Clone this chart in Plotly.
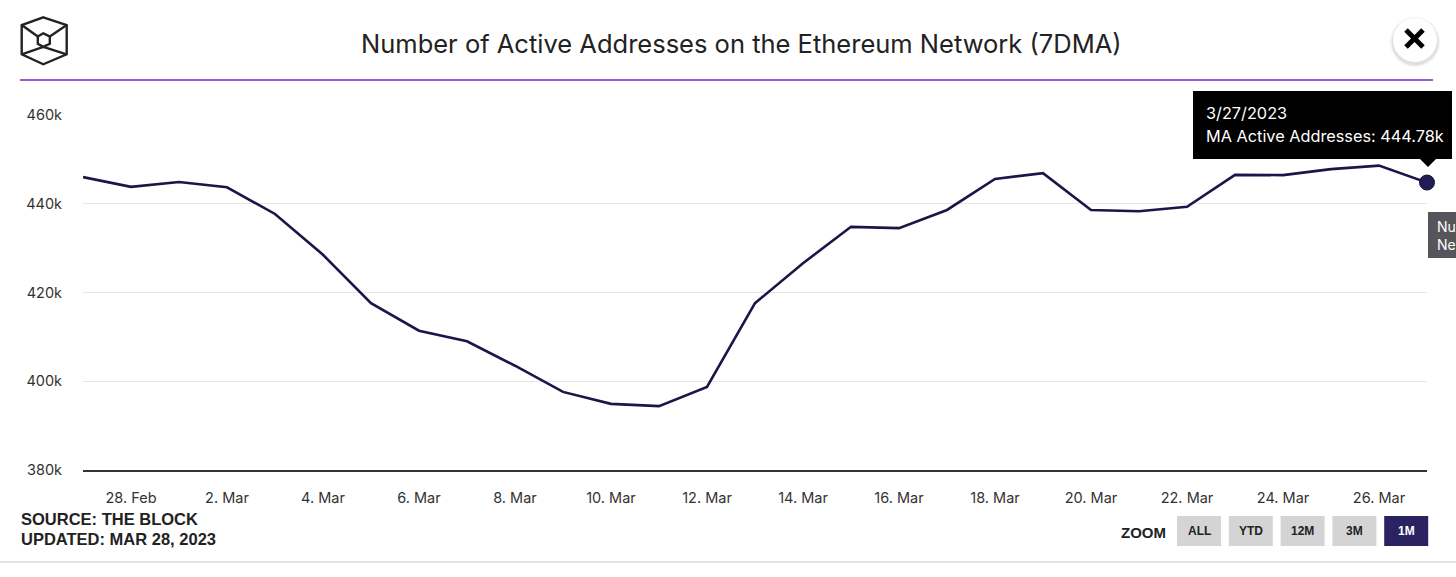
import plotly.graph_objects as go

# ---------------- data ----------------
dates = ["2023-02-27", "2023-02-28", "2023-03-01", "2023-03-02", "2023-03-03",
         "2023-03-04", "2023-03-05", "2023-03-06", "2023-03-07", "2023-03-08",
         "2023-03-09", "2023-03-10", "2023-03-11", "2023-03-12", "2023-03-13",
         "2023-03-14", "2023-03-15", "2023-03-16", "2023-03-17", "2023-03-18",
         "2023-03-19", "2023-03-20", "2023-03-21", "2023-03-22", "2023-03-23",
         "2023-03-24", "2023-03-25", "2023-03-26", "2023-03-27"]
active_addresses = [446000, 443800, 444900, 443700, 437700,
                    428500, 417600, 411400, 409000, 403500,
                    397600, 394900, 394400, 398700, 417600,
                    426600, 434800, 434500, 438600, 445600,
                    446900, 438600, 438300, 439300, 446500,
                    446450, 447800, 448600, 444780]

x_tick_vals = ["2023-02-28", "2023-03-02", "2023-03-04", "2023-03-06", "2023-03-08",
               "2023-03-10", "2023-03-12", "2023-03-14", "2023-03-16", "2023-03-18",
               "2023-03-20", "2023-03-22", "2023-03-24", "2023-03-26"]
x_tick_text = ["28. Feb", "2. Mar", "4. Mar", "6. Mar", "8. Mar", "10. Mar", "12. Mar",
               "14. Mar", "16. Mar", "18. Mar", "20. Mar", "22. Mar", "24. Mar", "26. Mar"]
y_tick_vals = [380000, 400000, 420000, 440000, 460000]
y_tick_text = ["380k", "400k", "420k", "440k", "460k"]

title_text = "Number of Active Addresses on the Ethereum Network (7DMA)"
series_name = "MA Active Addresses"
zoom_buttons = ["ALL", "YTD", "12M", "3M", "1M"]
active_button = "1M"

# ---------------- layout geometry (pixels) ----------------
FW, FH = 1456, 577
L, R, T, B = 83, 1427, 115, 470
W, H = R - L, B - T


def px(x):
    return (x - L) / W


def py(y):
    return (B - y) / H


LINE_COLOR = "#1b1548"
FONT = "Inter"

fig = go.Figure()
fig.add_trace(go.Scatter(
    x=dates, y=active_addresses, mode="lines", name=series_name,
    line=dict(color=LINE_COLOR, width=2.6), hoverinfo="skip", showlegend=False,
))
fig.add_trace(go.Scatter(
    x=[dates[-1]], y=[active_addresses[-1]], mode="markers",
    marker=dict(size=15, color="#221c55", line=dict(color="#141033", width=1)),
    cliponaxis=False, hoverinfo="skip", showlegend=False,
))

shapes = []
annotations = []

# title + purple rule
annotations.append(dict(
    x=px(741), y=py(43), xref="paper", yref="paper", text=title_text,
    showarrow=False, xanchor="center", yanchor="middle",
    font=dict(family=FONT, size=25.5, color="#222222"),
))
shapes.append(dict(type="line", xref="paper", yref="paper",
                   x0=px(20), x1=px(1433), y0=py(80), y1=py(80),
                   line=dict(color="#7424c9", width=1.5)))

# logo (cube in cube)
def pth(points, close=True):
    s = "M " + " L ".join(f"{px(a):.5f},{py(b):.5f}" for a, b in points)
    return s + (" Z" if close else "")

outer = [(43.3, 17.3), (66.7, 25), (66.7, 54.3), (43.3, 64.3), (21.7, 54.3), (21.7, 25)]
inner = [(43.3, 33.3), (49.8, 36.5), (49.8, 43.8), (43.3, 46.8), (37.8, 43.8), (37.8, 36.5)]
logo_style = dict(type="path", xref="paper", yref="paper", line=dict(color="#222222", width=2.4))
shapes.append(dict(path=pth(outer), **logo_style))
shapes.append(dict(path=pth(inner), **logo_style))
for a, b in [((21.7, 25), (37.8, 36.5)), ((66.7, 25), (49.8, 36.5)),
             ((21.7, 54.3), (43.3, 46.8)), ((66.7, 54.3), (43.3, 46.8))]:
    shapes.append(dict(path=pth([a, b], close=False), **logo_style))

# close button
for r, col in [(25, "rgba(0,0,0,0.05)"), (23.5, "rgba(0,0,0,0.07)")]:
    shapes.append(dict(type="circle", xref="paper", yref="paper",
                       x0=px(1415 - r), x1=px(1415 + r), y0=py(41 - r + 1), y1=py(41 + r + 1),
                       line=dict(width=0), fillcolor=col))
shapes.append(dict(type="circle", xref="paper", yref="paper",
                   x0=px(1415 - 22), x1=px(1415 + 22), y0=py(40 - 22), y1=py(40 + 22),
                   line=dict(width=0), fillcolor="white"))
for (a, b) in [((1406, 30), (1423, 47)), ((1423, 30), (1406, 47))]:
    shapes.append(dict(type="line", xref="paper", yref="paper",
                       x0=px(a[0]), y0=py(a[1]), x1=px(b[0]), y1=py(b[1]),
                       line=dict(color="black", width=5)))

# black tooltip
shapes.append(dict(type="rect", xref="paper", yref="paper",
                   x0=px(1193), x1=px(1452), y0=py(91), y1=py(159),
                   fillcolor="black", line=dict(width=0)))
shapes.append(dict(type="path", xref="paper", yref="paper",
                   path=pth([(1419, 158), (1437, 158), (1428, 167)]),
                   fillcolor="black", line=dict(width=0)))
annotations.append(dict(x=px(1204), y=py(113), xref="paper", yref="paper",
                        text="3/27/2023", showarrow=False, xanchor="left", yanchor="middle",
                        font=dict(family=FONT, size=16.3, color="white")))
annotations.append(dict(x=px(1204), y=py(136), xref="paper", yref="paper",
                        text=f"{series_name}: {active_addresses[-1] / 1000:.2f}k",
                        showarrow=False, xanchor="left", yanchor="middle",
                        font=dict(family=FONT, size=16.3, color="white")))

# grey tooltip, cut by the right edge as in the original
shapes.append(dict(type="rect", xref="paper", yref="paper",
                   x0=px(1428), x1=px(1500), y0=py(212), y1=py(258),
                   fillcolor="#55555b", line=dict(width=0)))
annotations.append(dict(x=px(1435), y=py(226), xref="paper", yref="paper",
                        text="Nu", showarrow=False,
                        xanchor="left", yanchor="middle",
                        font=dict(family=FONT, size=14, color="white")))
annotations.append(dict(x=px(1435), y=py(245), xref="paper", yref="paper",
                        text="Ne", showarrow=False,
                        xanchor="left", yanchor="middle",
                        font=dict(family=FONT, size=14, color="white")))

# source
for txt, yy in [("SOURCE: THE BLOCK", 519), ("UPDATED: MAR 28, 2023", 539)]:
    annotations.append(dict(x=px(19), y=py(yy), xref="paper", yref="paper",
                            text=f"<b>{txt}</b>", showarrow=False,
                            xanchor="left", yanchor="middle",
                            font=dict(family="Liberation Sans", size=16.5, color="#222222")))

# bottom rule
shapes.append(dict(type="line", xref="paper", yref="paper",
                   x0=px(0), x1=px(FW), y0=py(562), y1=py(562),
                   line=dict(color="#dddddd", width=1.5)))

# zoom buttons
annotations.append(dict(x=px(1168), y=py(532), xref="paper", yref="paper",
                        text="<b>ZOOM</b>", showarrow=False, xanchor="right", yanchor="middle",
                        font=dict(family="Liberation Sans", size=15, color="#222222")))
bx0 = 1177
for i, lab in enumerate(zoom_buttons):
    x0 = bx0 + i * 51.8
    x1 = x0 + 44
    active = lab == active_button
    shapes.append(dict(type="rect", xref="paper", yref="paper",
                       x0=px(x0), x1=px(x1), y0=py(516), y1=py(546),
                       fillcolor="#2b2262" if active else "#d4d4d4", line=dict(width=0)))
    annotations.append(dict(x=px((x0 + x1) / 2), y=py(531), xref="paper", yref="paper",
                            text=f"<b>{lab}</b>", showarrow=False,
                            xanchor="center", yanchor="middle",
                            font=dict(family="Liberation Sans", size=12,
                                      color="white" if active else "#222222")))

fig.update_layout(
    width=FW, height=FH,
    margin=dict(l=L, r=FW - R, t=T, b=FH - B, pad=0),
    paper_bgcolor="white", plot_bgcolor="white",
    showlegend=False, hovermode=False,
    shapes=shapes, annotations=annotations,
    xaxis=dict(
        type="date", range=[dates[0], dates[-1]],
        tickmode="array", tickvals=x_tick_vals, ticktext=x_tick_text,
        showgrid=False, zeroline=False,
        showline=True, linecolor="#333333", linewidth=2,
        ticks="", ticklabelstandoff=14,
        tickfont=dict(family=FONT, size=14.5, color="#333333"),
    ),
    yaxis=dict(
        range=[380000, 460000],
        tickmode="array", tickvals=y_tick_vals, ticktext=y_tick_text,
        showgrid=True, gridcolor="#e6e6e6", gridwidth=1,
        zeroline=False, showline=False, ticks="", ticklabelstandoff=20,
        tickfont=dict(family=FONT, size=14.5, color="#333333"),
    ),
)

fig.write_html("out.html", config={"displayModeBar": False},
               post_script="document.body.style.margin='0';document.body.style.overflow='hidden';")
